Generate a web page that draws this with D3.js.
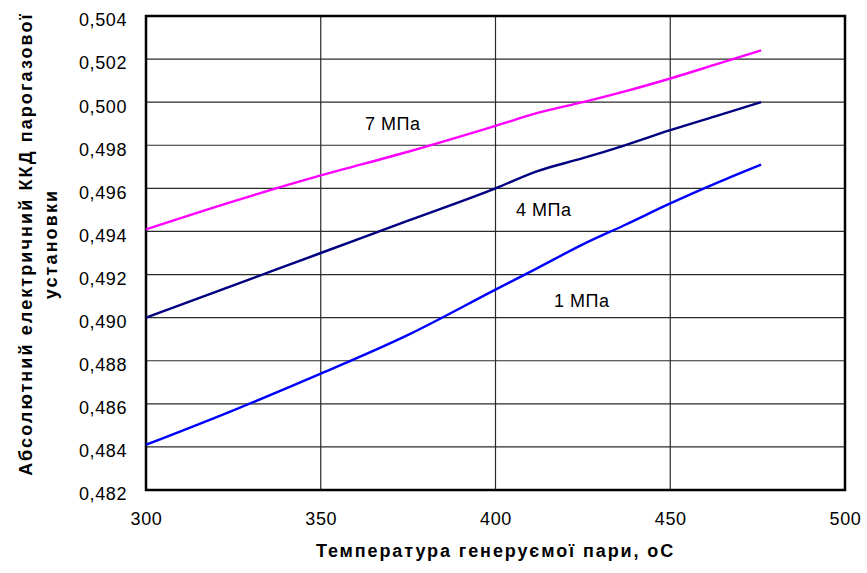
<!DOCTYPE html>
<html><head><meta charset="utf-8">
<script src="https://cdn.jsdelivr.net/npm/d3@7"></script>
<style>body{margin:0;background:#fff}svg{display:block;font-family:"Liberation Sans",Arial,sans-serif}</style>
</head><body><svg id="chart" width="867" height="573"></svg>
<script>
// Temperature of generated steam, °C
const temps = [300, 325, 350, 375, 400, 412, 425, 437, 450, 464, 476];
// Absolute electrical efficiency at each pressure
const eff7 = [0.4941, 0.4954, 0.4966, 0.4977, 0.4989, 0.4995, 0.5000, 0.5005, 0.5011, 0.5018, 0.5024];
const eff4 = [0.4900, 0.4915, 0.4930, 0.4945, 0.4960, 0.4968, 0.4974, 0.4980, 0.4987, 0.4994, 0.5000];
const eff1 = [0.4841, 0.4857, 0.4874, 0.4892, 0.4913, 0.4923, 0.4934, 0.4943, 0.4953, 0.4963, 0.4971];
const seriesNames = ["7 МПа", "4 МПа", "1 МПа"];
const xTicks = [300, 350, 400, 450, 500];
const yTicks = [0.482, 0.484, 0.486, 0.488, 0.490, 0.492, 0.494, 0.496, 0.498, 0.500, 0.502, 0.504];

const svg = d3.select("#chart");
const L = 146, R = 845, T = 16, B = 490;
const x = d3.scaleLinear().domain([300, 500]).range([L, R]);
const y = d3.scaleLinear().domain([0.482, 0.504]).range([B, T]);
const fmt = v => d3.format(".3f")(v).replace(".", ",");
const FONT = "Liberation Sans, Arial, sans-serif";

// grid
svg.append("g").selectAll("line").data(yTicks).join("line")
  .attr("x1", L).attr("x2", R).attr("y1", d => y(d)).attr("y2", d => y(d))
  .attr("stroke", "#2a2a2a").attr("stroke-width", 1.2);
svg.append("g").selectAll("line").data(xTicks).join("line")
  .attr("y1", T).attr("y2", B).attr("x1", d => x(d)).attr("x2", d => x(d))
  .attr("stroke", "#2a2a2a").attr("stroke-width", 1.2);

// axes
const yAxis = d3.axisLeft(y).tickValues(yTicks).tickFormat(fmt).tickSize(0).tickPadding(19);
svg.append("g").attr("transform", `translate(${L},0)`).call(yAxis)
  .call(g => g.select(".domain").remove())
  .selectAll("text").attr("font-size", 18).attr("font-family", FONT).attr("fill", "#000")
  .attr("letter-spacing", 0.6).attr("dy", "0.55em");
const xAxis = d3.axisBottom(x).tickValues(xTicks).tickFormat(d3.format("d")).tickSize(0).tickPadding(22);
svg.append("g").attr("transform", `translate(0,${B})`).call(xAxis)
  .call(g => g.select(".domain").remove())
  .selectAll("text").attr("font-size", 18).attr("font-family", FONT).attr("fill", "#000")
  .attr("letter-spacing", 0.6);

// frame
svg.append("rect").attr("x", L).attr("y", T).attr("width", R - L).attr("height", B - T)
  .attr("fill", "none").attr("stroke", "#000").attr("stroke-width", 2.5);

// series
const line = d3.line().curve(d3.curveMonotoneX).x((d, i) => x(temps[i])).y(d => y(d));
const series = [
  {vals: eff7, color: "#ff00ff"},
  {vals: eff4, color: "#000080"},
  {vals: eff1, color: "#0000ff"}
];
series.forEach(s => {
  svg.append("path").attr("d", line(s.vals)).attr("fill", "none")
    .attr("stroke", s.color).attr("stroke-width", 2.4);
});

// series labels
const labelPos = [[365, 130], [516, 216], [554, 307]];
seriesNames.forEach((n, i) => {
  svg.append("text").attr("x", labelPos[i][0]).attr("y", labelPos[i][1])
    .attr("font-size", 18).attr("letter-spacing", 0.5).text(n);
});

// axis titles
svg.append("text").attr("x", (L + R) / 2).attr("y", 557).attr("text-anchor", "middle")
  .attr("font-size", 18).attr("font-weight", "bold").attr("letter-spacing", 1.9)
  .text("Температура генеруємої пари, оС");
const yt = svg.append("text").attr("transform", "translate(0,244) rotate(-90)")
  .attr("text-anchor", "middle").attr("font-size", 18).attr("font-weight", "bold")
  .attr("letter-spacing", 2.1);
yt.append("tspan").attr("x", 0).attr("y", 32).text("Абсолютний електричний ККД парогазової");
yt.append("tspan").attr("x", 0).attr("y", 57).text("установки");
</script></body></html>
